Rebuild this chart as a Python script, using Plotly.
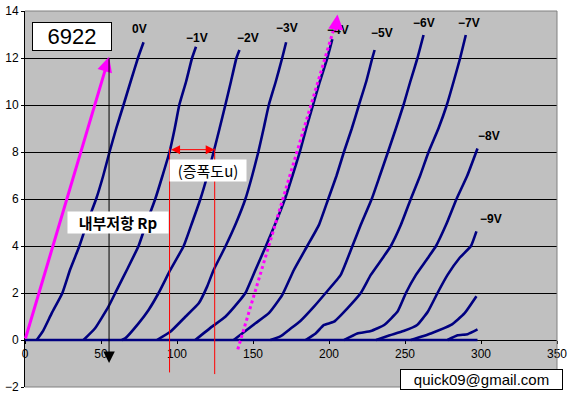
import plotly.graph_objects as go

# ---- data (plate voltage V, plate current mA) ----
grid_labels = ["0V", "−1V", "−2V", "−3V", "−4V", "−5V", "−6V", "−7V", "−8V", "−9V", "", ""]

v_0 = [0, 7.7, 12, 17.6, 24.6, 29.7, 35.8, 41, 46.8, 51.5, 55.6, 60, 64.8, 69.5, 74.3, 78]
i_0 = [0, 0, 0.4, 1.14, 2.0, 3.0, 4.0, 5.0, 6.0, 7.0, 8.0, 9.0, 10.0, 11.0, 12.0, 12.67]
v_1 = [0, 38.5, 46.1, 54.9, 60.4, 67, 74.7, 80, 85.7, 90.5, 95.1, 98.5, 101.5, 106, 109.9, 112.5]
i_1 = [0, 0, 0.5, 1.42, 2.13, 2.98, 4.0, 5.0, 6.0, 7.0, 8.0, 9.0, 10.0, 11.0, 12.0, 12.48]
v_2 = [0, 63.7, 65.9, 74.7, 81.3, 87.9, 95.6, 104.4, 110, 115.4, 120, 124.1, 128, 131.8, 135.5, 139.1, 141.1]
i_2 = [0, 0, 0.07, 0.71, 1.28, 2.0, 2.98, 4.0, 5.0, 6.0, 7.0, 8.0, 9.0, 10.0, 11.0, 12.0, 12.34]
v_3 = [0, 86.8, 95.6, 105.5, 114.3, 119.8, 124.1, 132, 139, 145, 149.5, 153.5, 157, 160.4, 165, 169.2, 171.8]
i_3 = [0, 0, 0.35, 0.99, 1.56, 2.27, 2.98, 4.0, 5.0, 6.0, 7.0, 8.0, 9.0, 10.0, 11.0, 12.0, 12.67]
v_4 = [0, 112, 123, 131.8, 140.6, 145, 151.6, 158.5, 165, 171, 176, 180.8, 185, 189.5, 194, 198.9, 202.2]
i_4 = [0, 0, 0.57, 0.99, 1.63, 2.0, 2.98, 4.0, 5.0, 6.0, 7.0, 8.0, 9.0, 10.0, 11.0, 12.0, 12.8]
v_5 = [0, 137.3, 151.6, 160.4, 169.2, 176.9, 185.7, 193.4, 199.5, 205, 209.8, 215, 219.7, 224.5, 228.5, 230]
i_5 = [0, 0, 0.71, 1.14, 1.91, 2.98, 4.0, 4.9, 6.0, 7.0, 8.0, 9.0, 10.0, 11.0, 12.0, 12.34]
v_6 = [0, 161.5, 168, 174, 181, 190.1, 197.8, 207.7, 215.4, 220.9, 228.1, 233.5, 238.8, 244, 249, 253.5, 258.2, 262.2]
i_6 = [0, 0, 0.15, 0.45, 0.8, 1.42, 2.0, 2.77, 4.0, 4.9, 6.0, 7.0, 8.0, 9.0, 10.0, 11.0, 12.0, 12.98]
v_7 = [0, 184.6, 191.2, 196.7, 203.3, 212.1, 220.9, 227.5, 235.2, 240.7, 247.3, 253.8, 260, 265.5, 272, 277.5, 282, 286.3, 290]
i_7 = [0, 0, 0.28, 0.64, 0.78, 1.35, 2.0, 2.77, 3.48, 4.0, 4.9, 6.0, 7.0, 8.0, 9.0, 10.0, 11.0, 12.0, 12.98]
v_8 = [0, 210, 218.6, 227.5, 236.3, 245.1, 250.6, 257.2, 264.9, 270.4, 277, 283.9, 291, 297.7]
i_8 = [0, 0, 0.28, 0.38, 0.64, 1.21, 2.0, 2.77, 3.48, 4.0, 4.9, 6.0, 7.0, 8.15]
v_9 = [0, 231, 240, 249, 258, 265, 271.4, 278, 286, 293.4, 297]
i_9 = [0, 0, 0.2, 0.38, 0.64, 1.2, 2.0, 2.77, 3.5, 4.0, 4.62]
v_10 = [0, 253.8, 267, 280.3, 289.1, 297]
i_10 = [0, 0, 0.28, 0.64, 1.13, 1.86]
v_11 = [0, 278, 284.6, 291.2, 297.7]
i_11 = [0, 0, 0.2, 0.25, 0.45]

curves_v = [v_0, v_1, v_2, v_3, v_4, v_5, v_6, v_7, v_8, v_9, v_10, v_11]
curves_i = [i_0, i_1, i_2, i_3, i_4, i_5, i_6, i_7, i_8, i_9, i_10, i_11]

label_x = [75, 113.2, 146.6, 172.4, 205.6, 234.7, 262.4, 292.1, 305.3, 306.4]
label_y = [13.23, 12.85, 12.85, 13.28, 13.19, 13.06, 13.49, 13.49, 8.7, 5.16]

x_ticks = [0, 50, 100, 150, 200, 250, 300, 350]
y_ticks = [-2, 0, 2, 4, 6, 8, 10, 12, 14]

NAVY = "#000080"
MAG = "#FF00FF"

fig = go.Figure()
# flat baseline along the axis (cut-off region of every curve)
fig.add_trace(go.Scatter(x=[0, max(v_11)], y=[0, 0], mode="lines",
                         line=dict(color=NAVY, width=2.6), hoverinfo="skip"))
for vv, ii in zip(curves_v, curves_i):
    fig.add_trace(go.Scatter(x=vv[1:], y=ii[1:], mode="lines",
                             line=dict(color=NAVY, width=2.6, shape="spline", smoothing=0.4),
                             hoverinfo="skip"))

# dotted magenta line
fig.add_trace(go.Scatter(x=[140, 204.6], y=[-0.4, 13.55], mode="lines",
                         line=dict(color=MAG, width=3, dash="dot"), hoverinfo="skip"))

ann = []
for t, x, y in zip(grid_labels, label_x, label_y):
    if t:
        ann.append(dict(x=x, y=y, text=t, showarrow=False,
                        font=dict(family="Liberation Sans", size=12, color="black", weight="bold")))

# arrows
ann.append(dict(x=55.3, y=12.05, ax=0, ay=0, axref="x", ayref="y", xref="x", yref="y",
                text="", showarrow=True, arrowhead=2, arrowsize=1, arrowwidth=3, arrowcolor=MAG))
ann.append(dict(x=205.6, y=13.85, ax=204.3, ay=13.1, axref="x", ayref="y", xref="x", yref="y",
                text="", showarrow=True, arrowhead=2, arrowsize=1, arrowwidth=3, arrowcolor=MAG))
ann.append(dict(x=55.3, y=-0.98, ax=55.3, ay=12.05, axref="x", ayref="y", xref="x", yref="y",
                text="", showarrow=True, arrowhead=2, arrowsize=2.3, arrowwidth=1, arrowcolor="black"))
ann.append(dict(x=124.8, y=8.1, ax=95.1, ay=8.1, axref="x", ayref="y", xref="x", yref="y",
                text="", showarrow=True, arrowhead=2, startarrowhead=2, arrowside="end+start",
                arrowsize=1.8, startarrowsize=1.8, arrowwidth=1, arrowcolor="red"))

# text boxes
ann.append(dict(x=30.9, y=12.91, text="6922", showarrow=False, bgcolor="white",
                bordercolor="black", borderwidth=1, borderpad=0, width=78, height=27,
                font=dict(family="Liberation Sans", size=22, color="black")))
ann.append(dict(x=61.2, y=5.0, text="내부저항 Rp", showarrow=False, bgcolor="white",
                borderpad=0, width=100, height=21,
                font=dict(family="Noto Sans CJK KR", size=15, color="black", weight="bold")))
ann.append(dict(x=120.3, y=7.23, text="(증폭도u)", showarrow=False, bgcolor="white",
                borderpad=0, width=76, height=21,
                font=dict(family="Noto Sans CJK KR", size=15, color="black")))
ann.append(dict(x=300.3, y=-1.66, text="quick09@gmail.com", showarrow=False, bgcolor="white",
                bordercolor="black", borderwidth=1, borderpad=0, width=161, height=19,
                xanchor="center", font=dict(family="Liberation Sans", size=15, color="black")))

shapes = [
    dict(type="line", x0=95.1, x1=95.1, y0=8.15, y1=-1.38, line=dict(color="red", width=1)),
    dict(type="line", x0=124.8, x1=124.8, y0=8.15, y1=-1.45, line=dict(color="red", width=1)),
    dict(type="line", xref="paper", yref="paper", x0=0, x1=1, y0=1, y1=1, line=dict(color="#808080", width=1)),
    dict(type="line", xref="paper", yref="paper", x0=1, x1=1, y0=0, y1=1, line=dict(color="#808080", width=1)),
    dict(type="line", xref="paper", yref="paper", x0=0, x1=1, y0=0, y1=0, line=dict(color="#808080", width=1)),
]

fig.update_layout(
    width=572, height=395,
    margin=dict(l=25, r=15, t=11, b=8, autoexpand=False),
    paper_bgcolor="white", plot_bgcolor="#C0C0C0",
    showlegend=False,
    annotations=ann, shapes=shapes,
    xaxis=dict(range=[0, 350], tickvals=x_ticks, showgrid=False, zeroline=False,
               showline=True, linecolor="black", linewidth=1, automargin=False,
               anchor="free", position=0.125, ticks="outside", ticklen=3, tickcolor="black",
               tickfont=dict(family="Liberation Sans", size=12, color="black"),
               layer="below traces", fixedrange=True),
    yaxis=dict(range=[-2, 14], tickvals=y_ticks, showgrid=True, gridcolor="black", gridwidth=1,
               zeroline=False, showline=True, linecolor="black", linewidth=1, automargin=False,
               ticks="outside", ticklen=3, tickcolor="black",
               tickfont=dict(family="Liberation Sans", size=12, color="black"),
               layer="below traces", fixedrange=True),
)

fig.write_html("out.html", config={"displayModeBar": False},
               post_script="document.body.style.margin='0';document.body.style.overflow='hidden';")
